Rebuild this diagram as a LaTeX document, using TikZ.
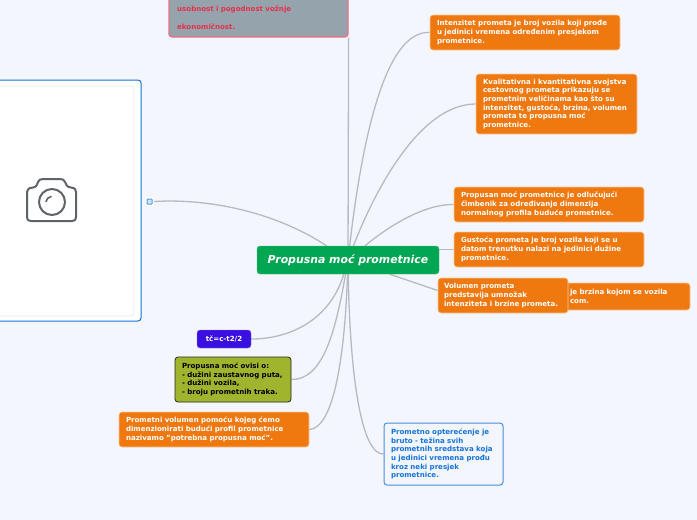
\documentclass[tikz,border=0pt]{standalone}
\usepackage{fontspec}
\setmainfont{DejaVu Sans}
\usetikzlibrary{backgrounds}
\definecolor{pagebg}{HTML}{F3F6FE}
\definecolor{boxorange}{HTML}{EF780F}
\definecolor{boxpeach}{HTML}{F9C898}
\definecolor{linkgrey}{HTML}{B8BAC0}
\definecolor{mainblue}{HTML}{1673DC}
\definecolor{lightblue}{HTML}{4A9BE8}
\definecolor{boxgreen}{HTML}{00A651}
\definecolor{boxolive}{HTML}{A0B52D}
\definecolor{boxindigo}{HTML}{3A10E0}
\definecolor{topgrey}{HTML}{95A3AD}
\definecolor{topred}{HTML}{E8304A}
\definecolor{iconink}{HTML}{5F6368}

\begin{document}
\begin{tikzpicture}[
    x=1pt,y=-1pt,
    base/.style={rectangle,rounded corners=3pt,inner sep=0pt,align=left,font=\bfseries\fontsize{7.05}{8.7}\selectfont},
    O/.style={base,fill=boxorange,draw=boxpeach,line width=.6pt,text=white},
    link/.style={linkgrey,line width=1.3pt},
    ]
    \path[use as bounding box,clip] (0,0) rectangle (697,520);

    \node[base,fill=topgrey,draw=topred!70,line width=1.2pt,minimum width=179,minimum height=97] (top) at (258.5,-11.5) {};
    \node[base,text=topred,anchor=west,text width=165,font=\bfseries\fontsize{7.05}{18}\selectfont] (toptext) at (177,18) {usobnost i pogodnost vožnje\\ekonomičnost.};

    \node[base,fill=white,draw=mainblue,line width=1pt,minimum width=181,minimum height=241] (photo) at (50.5,200.5) {};
    \node[base,fill=white,draw=black!8,line width=.8pt,minimum width=168,minimum height=230] (photoinner) at (50,201) {};
    \draw[iconink,line width=2pt,line join=round]
        (27,192) .. controls (27,189) and (29,188) .. (33,187.5)
        .. controls (37,187) and (37,184) .. (38,182)
        .. controls (39,180) and (40,179) .. (43,179) -- (60,179)
        .. controls (63,179) and (64,180) .. (65,182)
        .. controls (66,185) and (67,187) .. (71,187.5)
        .. controls (75,188) and (76,189.5) .. (76,192) -- (76,217)
        .. controls (76,220) and (75,221) .. (72,221) -- (31,221)
        .. controls (28,221) and (27,220) .. (27,217) -- cycle;
    \draw[iconink,line width=2pt] (52,202) circle (13);
    \draw[iconink,line width=1.6pt,line cap=round] (46,201.5) .. controls (46.5,199) and (48.5,197) .. (51,196.5);

    \node[base,fill=white,rounded corners=0pt,minimum size=9] (linkbox) at (149.5,201.5) {};
    \node[base,fill=lightblue!25,draw=lightblue,rounded corners=.5pt,line width=1pt,minimum size=5] (linkicon) at (149.5,201.5) {};

    \node[base,fill=boxgreen,draw=boxgreen!70,rounded corners=3pt,minimum width=182,minimum height=28,text=white,align=center,font=\bfseries\itshape\fontsize{10.9}{12}\selectfont] (center) at (348,260) {Propusna moć prometnice};

    \node[O,minimum width=190,minimum height=35,text width=176] (intenzitet) at (525,32.5) {Intenzitet prometa je broj vozila koji prođe\\u jedinici vremena određenim presjekom\\prometnice.};
    \node[O,minimum width=161,minimum height=60,text width=147] (svojstva) at (556.5,104) {Kvalitativna i kvantitativna svojstva\\cestovnog prometa prikazuju se\\prometnim veličinama kao što su\\intenzitet, gustoća, brzina, volumen\\prometa te propusna moć\\prometnice.};
    \node[O,minimum width=190,minimum height=35,text width=176] (propusan) at (549,204.5) {Propusan moć prometnice je odlučujući\\čimbenik za određivanje dimenzija\\normalnog profila buduće prometnice.};
    \node[O,minimum width=190,minimum height=35,text width=176] (gustoca) at (549,249.5) {Gustoća prometa je broj vozila koji se u\\datom trenutku nalazi na jedinici dužine\\prometnice.};
    \node[O,minimum width=130,minimum height=27,text width=110] (brzina) at (625,296.5) {je brzina kojom se vozila\\com.};
    \node[O,minimum width=130,minimum height=35,text width=118] (volumen) at (503,295.5) {Volumen prometa\\predstavija umnožak\\intenziteta i brzine prometa.};

    \node[base,fill=boxindigo,draw=boxindigo!60,text=white,minimum width=54,minimum height=18,align=center] (tc) at (224,339) {tč=c-t2/2};
    \node[base,fill=boxolive,draw=black!85,line width=.8pt,text=black,minimum width=116,minimum height=45,text width=102] (ovisi) at (233,379.5) {Propusna moć ovisi o:\\- dužini zaustavnog puta,\\- dužini vozila,\\- broju prometnih traka.};
    \node[O,minimum width=190,minimum height=35,text width=176] (potrebna) at (214,429.5) {Prometni volumen pomoću kojeg ćemo\\dimenzionirati budući profil prometnice\\nazivamo "potrebna propusna moć".};
    \node[base,fill=pagebg,draw=mainblue!80,line width=1pt,text=mainblue,minimum width=119,minimum height=62,text width=105] (opterecenje) at (443.5,454) {Prometno opterećenje je\\bruto - težina svih\\prometnih sredstava koja\\u jedinici vremena prođu\\kroz neki presjek\\prometnice.};

    \begin{scope}[on background layer]
        \fill[pagebg] (0,0) rectangle (697,520);
        \draw[link] (top.south east) -- (center);
        \draw[link] (center) .. controls (362,140) and (385,30) .. (intenzitet.west);
        \draw[link] (center) .. controls (375,190) and (420,104) .. (svojstva.west);
        \draw[link] (center) .. controls (390,225) and (425,204) .. (propusan.west);
        \draw[link] (center.east |- gustoca.west) -- (gustoca.west);
        \draw[link] (center) -- ([yshift=5pt]volumen.west);
        \draw[link] (center) .. controls (330,320) and (290,339) .. (tc.east);
        \draw[link] (center) .. controls (335,335) and (322,380) .. (ovisi.east);
        \draw[link] (center) .. controls (345,350) and (335,428) .. (potrebna.east);
        \draw[link] (center) .. controls (350,380) and (362,455) .. (opterecenje.west);
        \draw[link] (linkbox.east) .. controls (215,198) and (280,215) .. (center);
    \end{scope}
\end{tikzpicture}
\end{document}
